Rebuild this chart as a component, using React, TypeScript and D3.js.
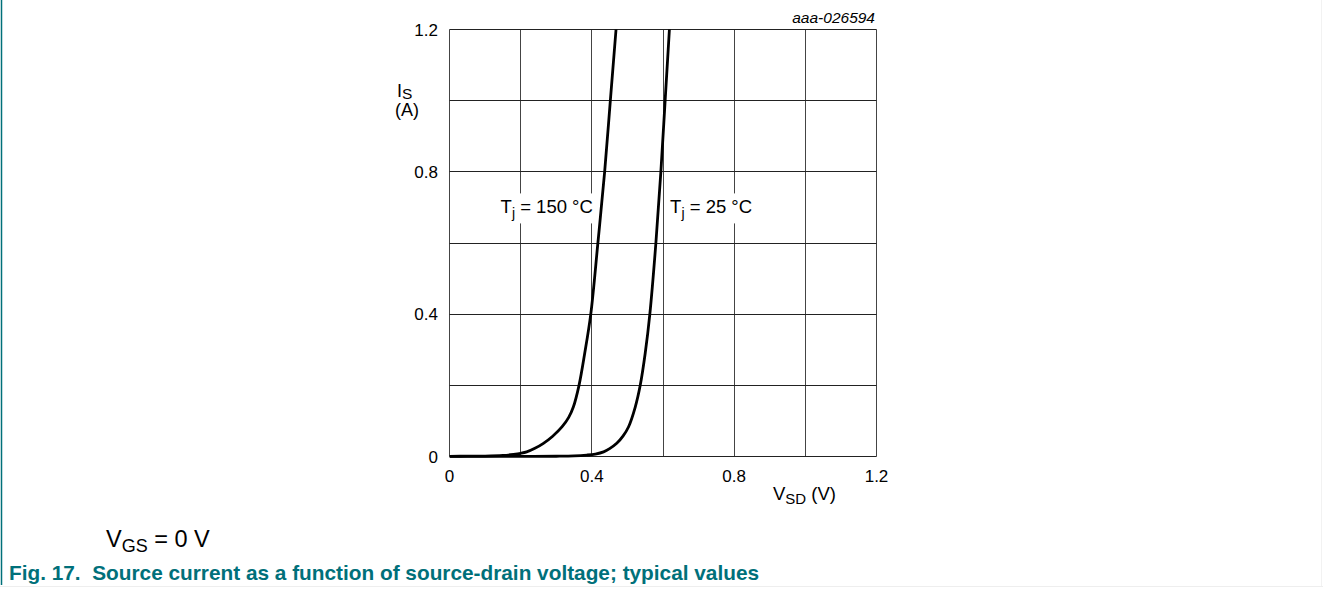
import React, { useEffect, useRef } from "react";
import * as d3 from "d3";

// ---- data ----
const xTickValues = [0, 0.4, 0.8, 1.2];
const xTickLabels = ["0", "0.4", "0.8", "1.2"];
const yTickValues = [0, 0.4, 0.8, 1.2];
const yTickLabels = ["0", "0.4", "0.8", "1.2"];
const gridValues = [0, 0.2, 0.4, 0.6, 0.8, 1.0, 1.2];

const vsd150 = [0, 0.05, 0.1, 0.15, 0.18, 0.2, 0.217, 0.24, 0.264, 0.29, 0.316, 0.335, 0.348, 0.364, 0.38, 0.397, 0.417, 0.436, 0.452, 0.468];
const is150 = [0.0005, 0.0008, 0.0012, 0.003, 0.006, 0.009, 0.013, 0.023, 0.037, 0.057, 0.083, 0.11, 0.139, 0.2, 0.29, 0.4, 0.6, 0.8, 1.0, 1.2];

const vsd25 = [0, 0.1, 0.2, 0.3, 0.35, 0.386, 0.41, 0.433, 0.45, 0.47, 0.488, 0.503, 0.522, 0.536, 0.55, 0.563, 0.58, 0.594, 0.606, 0.618];
const is25 = [0.0003, 0.0003, 0.0004, 0.0007, 0.0016, 0.004, 0.007, 0.013, 0.022, 0.037, 0.058, 0.083, 0.139, 0.2, 0.29, 0.4, 0.6, 0.8, 1.0, 1.2];

const seriesLabels = [
  { main: "T", sub: "j", rest: " = 150 °C", x: 0.403, y: 0.7, anchor: "end" },
  { main: "T", sub: "j", rest: " = 25 °C", x: 0.62, y: 0.7, anchor: "start" },
];

const W = 1323;
const H = 595;
const FONT = "'Liberation Sans', Arial, Helvetica, sans-serif";
const TEAL = "#00707a";

export default function App() {
  const ref = useRef<SVGSVGElement | null>(null);

  useEffect(() => {
    const svg = d3.select(ref.current);
    svg.selectAll("*").remove();

    const x = d3.scaleLinear().domain([0, 1.2]).range([449.5, 876.5]);
    const y = d3.scaleLinear().domain([0, 1.2]).range([456.5, 29.5]);

    // page frame
    svg.append("rect").attr("x", 0).attr("y", 0).attr("width", W).attr("height", H).attr("fill", "#fff");
    svg.append("line").attr("x1", 1.5).attr("x2", 1.5).attr("y1", 0).attr("y2", 585)
      .attr("stroke", TEAL).attr("stroke-width", 1.5);
    svg.append("line").attr("x1", 0).attr("x2", W).attr("y1", 586.5).attr("y2", 586.5)
      .attr("stroke", "#eeeeee").attr("stroke-width", 1);
    svg.append("line").attr("x1", W - 1.5).attr("x2", W - 1.5).attr("y1", 0).attr("y2", 586)
      .attr("stroke", "#f2f2f2").attr("stroke-width", 1);

    const g = svg.append("g");

    // grid
    g.selectAll("line.vg").data(gridValues).enter().append("line")
      .attr("x1", (d) => Math.round(x(d) - 0.5) + 0.5).attr("x2", (d) => Math.round(x(d) - 0.5) + 0.5)
      .attr("y1", y(0)).attr("y2", y(1.2))
      .attr("stroke", "#444").attr("stroke-width", 1);
    g.selectAll("line.hg").data(gridValues).enter().append("line")
      .attr("y1", (d) => Math.round(y(d) - 0.5) + 0.5).attr("y2", (d) => Math.round(y(d) - 0.5) + 0.5)
      .attr("x1", x(0)).attr("x2", x(1.2))
      .attr("stroke", "#222").attr("stroke-width", 1);

    // series labels with white boxes
    seriesLabels.forEach((s) => {
      const t = g.append("text")
        .attr("x", x(s.x)).attr("y", y(s.y) + 6)
        .attr("text-anchor", s.anchor)
        .attr("font-family", FONT).attr("font-size", 18.5).attr("fill", "#000");
      t.append("tspan").text(s.main);
      t.append("tspan").attr("dy", 5).attr("font-size", 14).text(s.sub);
      t.append("tspan").attr("dy", -5).text(s.rest);
      const bb = (t.node() as SVGTextElement).getBBox();
      g.insert("rect", "text")
        .attr("x", bb.x - 3).attr("y", y(s.y) - 14).attr("width", bb.width + 6).attr("height", 30)
        .attr("fill", "#fff");
    });

    // curves
    const clipId = "plotclip";
    svg.append("defs").append("clipPath").attr("id", clipId)
      .append("rect").attr("x", x(0)).attr("y", y(1.2) - 2).attr("width", x(1.2) - x(0)).attr("height", y(0) - y(1.2) + 4);
    const line = d3.line<[number, number]>()
      .x((d) => x(d[0])).y((d) => y(d[1]))
      .curve(d3.curveCatmullRom.alpha(0.5));
    const c150: [number, number][] = vsd150.map((v, i) => [v, is150[i]]);
    const c25: [number, number][] = vsd25.map((v, i) => [v, is25[i]]);
    [c150, c25].forEach((c) => {
      g.append("path").attr("d", line(c)).attr("fill", "none")
        .attr("stroke", "#000").attr("stroke-width", 2.8)
        .attr("stroke-linejoin", "round")
        .attr("clip-path", `url(#${clipId})`);
    });

    // tick labels
    g.selectAll("text.xt").data(xTickValues).enter().append("text")
      .attr("x", (d) => x(d)).attr("y", 482)
      .attr("text-anchor", "middle").attr("font-family", FONT).attr("font-size", 17)
      .text((d, i) => xTickLabels[i]);
    g.selectAll("text.yt").data(yTickValues).enter().append("text")
      .attr("x", 438).attr("y", (d) => y(d) + 6)
      .attr("text-anchor", "end").attr("font-family", FONT).attr("font-size", 17)
      .text((d, i) => yTickLabels[i]);

    // axis titles
    const yt = g.append("text").attr("x", 397).attr("y", 97)
      .attr("font-family", FONT).attr("font-size", 18);
    yt.append("tspan").text("I");
    yt.append("tspan").attr("dy", 2).attr("font-size", 15.5).text("S");
    g.append("text").attr("x", 407).attr("y", 116).attr("text-anchor", "middle")
      .attr("font-family", FONT).attr("font-size", 18).text("(A)");

    const xt = g.append("text").attr("x", 773).attr("y", 500)
      .attr("font-family", FONT).attr("font-size", 18.5);
    xt.append("tspan").text("V");
    xt.append("tspan").attr("dy", 4).attr("font-size", 15).text("SD");
    xt.append("tspan").attr("dy", -4).text(" (V)");

    // id label
    g.append("text").attr("x", 875).attr("y", 23).attr("text-anchor", "end")
      .attr("font-family", FONT).attr("font-size", 15.5).attr("font-style", "italic")
      .text("aaa-026594");

    // conditions
    const vgs = g.append("text").attr("x", 106).attr("y", 547)
      .attr("font-family", FONT).attr("font-size", 23.5);
    vgs.append("tspan").text("V");
    vgs.append("tspan").attr("dy", 5).attr("font-size", 18).text("GS");
    vgs.append("tspan").attr("dy", -5).text(" = 0 V");

    // caption
    g.append("text").attr("x", 9).attr("y", 580)
      .attr("font-family", FONT).attr("font-size", 20.8).attr("font-weight", "bold").attr("fill", TEAL)
      .text("Fig. 17.\u00a0\u00a0Source current as a function of source-drain voltage; typical values");
  }, []);

  return (
    <div style={{ position: "absolute", left: 0, top: 0 }}>
      <svg ref={ref} width={W} height={H} style={{ display: "block" }} />
    </div>
  );
}
